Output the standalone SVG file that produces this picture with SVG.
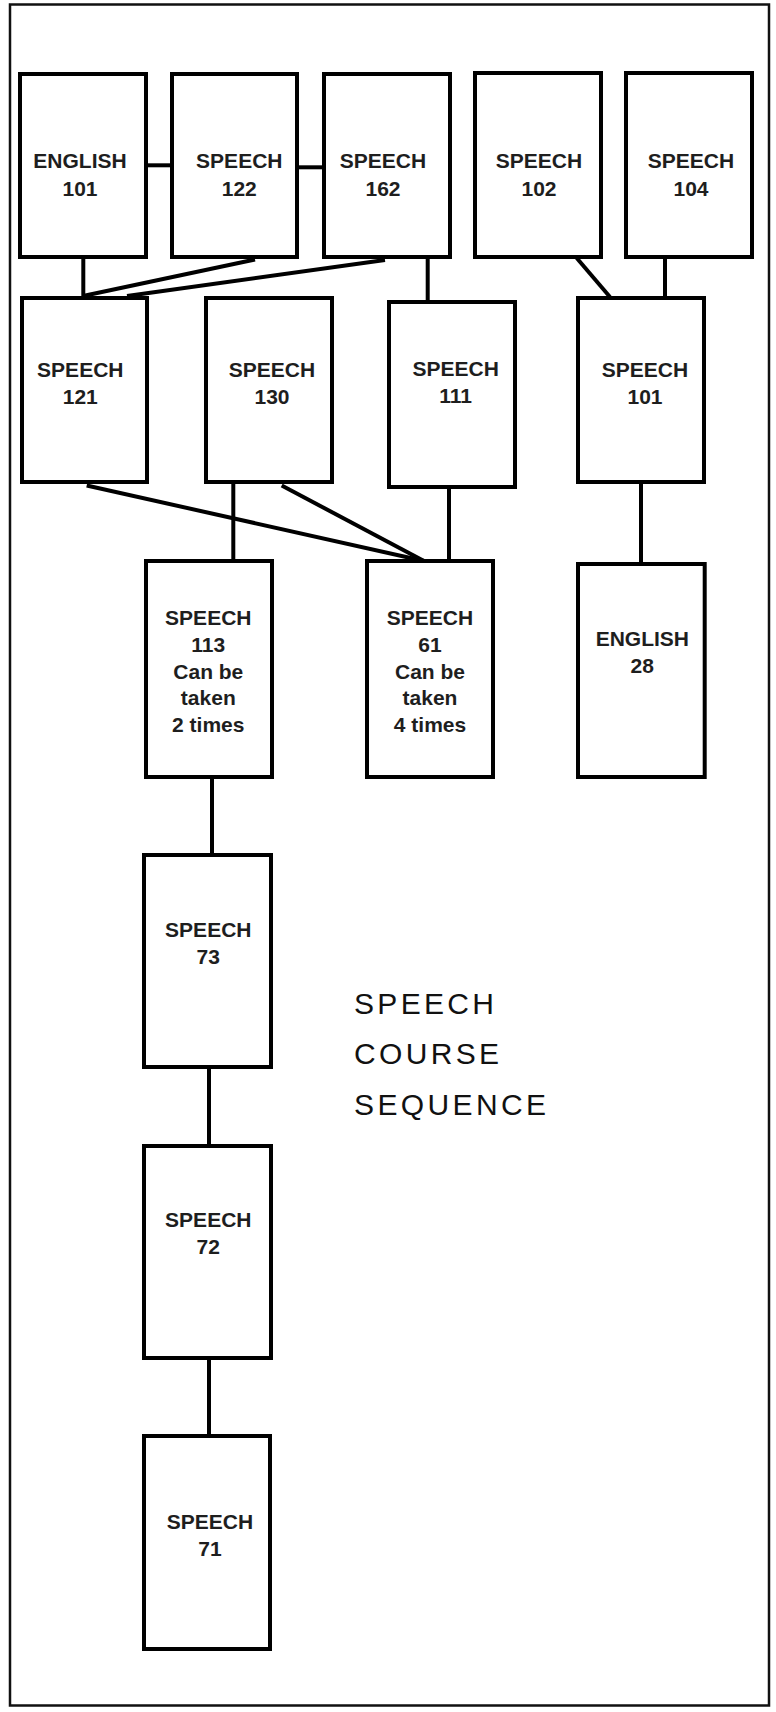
<svg xmlns="http://www.w3.org/2000/svg" width="776" height="1712" viewBox="0 0 776 1712">
<style>
.box{fill:#fff;stroke:#000;stroke-width:4}
.lbl{font-family:"Liberation Sans",Arial,sans-serif;font-weight:bold;font-size:21px;fill:#1e1e1e;text-anchor:middle}
.conn line{stroke:#000;stroke-width:4}
.title{font-family:"Liberation Sans",Arial,sans-serif;font-size:30px;fill:#111}
</style>
<rect x="0" y="0" width="776" height="1712" fill="#fff"/>
<rect x="10" y="4.5" width="759" height="1701" fill="none" stroke="#111" stroke-width="2.5"/>
<g class="conn">
<line x1="146" y1="165.3" x2="172" y2="165.3"/>
<line x1="297" y1="167.3" x2="324" y2="167.3"/>
<line x1="83.3" y1="257" x2="83.3" y2="298"/>
<line x1="255" y1="259.5" x2="83" y2="296"/>
<line x1="385" y1="260" x2="127" y2="296"/>
<line x1="427.7" y1="257" x2="427.7" y2="302"/>
<line x1="576.7" y1="258" x2="610" y2="297"/>
<line x1="665" y1="257" x2="665" y2="298"/>
<line x1="86.7" y1="485.5" x2="424" y2="561"/>
<line x1="281.7" y1="485.5" x2="424" y2="561"/>
<line x1="233.3" y1="482" x2="233.3" y2="561"/>
<line x1="449" y1="487" x2="449" y2="561"/>
<line x1="641" y1="482" x2="641" y2="564"/>
<line x1="212" y1="777" x2="212" y2="855"/>
<line x1="209" y1="1067" x2="209" y2="1146"/>
<line x1="209" y1="1358" x2="209" y2="1436"/>
</g>
<g id="english101"><rect class="box" x="20" y="74" width="126" height="183"/><text class="lbl" x="80" y="168">ENGLISH</text><text class="lbl" x="80" y="196">101</text></g>
<g id="speech122"><rect class="box" x="172" y="74" width="125" height="183"/><text class="lbl" x="239.3" y="168">SPEECH</text><text class="lbl" x="239.3" y="196">122</text></g>
<g id="speech162"><rect class="box" x="324" y="74" width="126" height="183"/><text class="lbl" x="383" y="168">SPEECH</text><text class="lbl" x="383" y="196">162</text></g>
<g id="speech102"><rect class="box" x="475" y="73" width="126" height="184"/><text class="lbl" x="539" y="168">SPEECH</text><text class="lbl" x="539" y="196">102</text></g>
<g id="speech104"><rect class="box" x="626" y="73" width="126" height="184"/><text class="lbl" x="691" y="168">SPEECH</text><text class="lbl" x="691" y="196">104</text></g>
<g id="speech121"><rect class="box" x="22" y="298" width="125" height="184"/><text class="lbl" x="80.3" y="377">SPEECH</text><text class="lbl" x="80.3" y="404">121</text></g>
<g id="speech130"><rect class="box" x="206" y="298" width="126" height="184"/><text class="lbl" x="272" y="377">SPEECH</text><text class="lbl" x="272" y="404">130</text></g>
<g id="speech111"><rect class="box" x="389" y="302" width="126" height="185"/><text class="lbl" x="455.7" y="375.7">SPEECH</text><text class="lbl" x="455.7" y="402.7">111</text></g>
<g id="speech101"><rect class="box" x="578" y="298" width="126" height="184"/><text class="lbl" x="645" y="377">SPEECH</text><text class="lbl" x="645" y="404">101</text></g>
<g id="speech113"><rect class="box" x="146" y="561" width="126" height="216"/><text class="lbl" x="208.3" y="625">SPEECH</text><text class="lbl" x="208.3" y="651.7">113</text><text class="lbl" x="208.3" y="678.5">Can be</text><text class="lbl" x="208.3" y="705">taken</text><text class="lbl" x="208.3" y="731.7">2 times</text></g>
<g id="speech61"><rect class="box" x="367" y="561" width="126" height="216"/><text class="lbl" x="430" y="625">SPEECH</text><text class="lbl" x="430" y="651.7">61</text><text class="lbl" x="430" y="678.5">Can be</text><text class="lbl" x="430" y="705">taken</text><text class="lbl" x="430" y="731.7">4 times</text></g>
<g id="english28"><rect class="box" x="578" y="564" width="126.7" height="213"/><text class="lbl" x="642.3" y="646">ENGLISH</text><text class="lbl" x="642.3" y="672.7">28</text></g>
<g id="speech73"><rect class="box" x="144" y="855" width="127" height="212"/><text class="lbl" x="208.3" y="936.7">SPEECH</text><text class="lbl" x="208.3" y="964">73</text></g>
<g id="speech72"><rect class="box" x="144" y="1146" width="127" height="212"/><text class="lbl" x="208.3" y="1227.3">SPEECH</text><text class="lbl" x="208.3" y="1254.3">72</text></g>
<g id="speech71"><rect class="box" x="144" y="1436" width="126" height="213"/><text class="lbl" x="210" y="1529.3">SPEECH</text><text class="lbl" x="210" y="1556">71</text></g>
<g id="title">
<text class="title" x="354" y="1014" textLength="140" lengthAdjust="spacing">SPEECH</text>
<text class="title" x="354" y="1064" textLength="145" lengthAdjust="spacing">COURSE</text>
<text class="title" x="354" y="1115" textLength="192" lengthAdjust="spacing">SEQUENCE</text>
</g>
</svg>
